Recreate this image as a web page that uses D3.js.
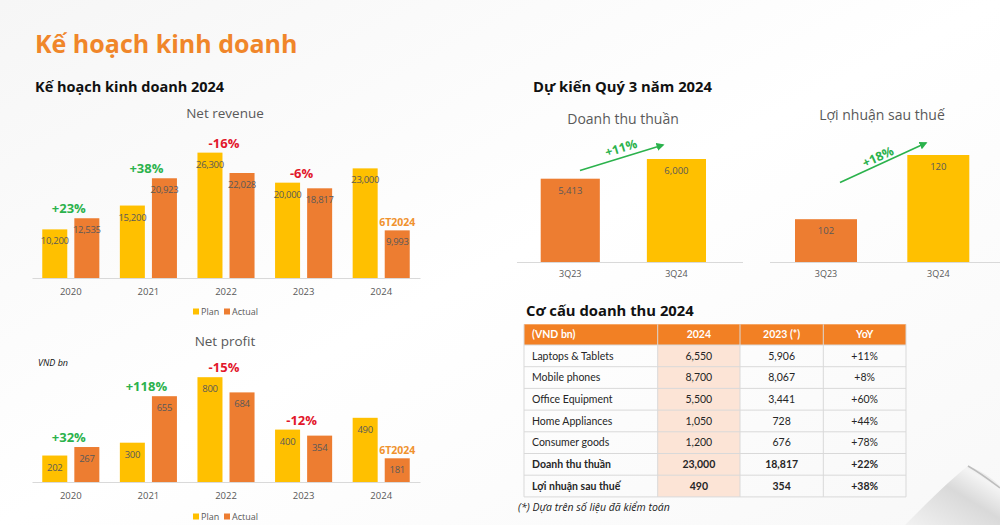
<!DOCTYPE html>
<html><head><meta charset="utf-8">
<script src="https://cdn.jsdelivr.net/npm/d3@7"></script>
<style>
html,body{margin:0;padding:0;background:#fafafa;}
svg{display:block;font-family:"Open Sans","Noto Sans",sans-serif;}
</style></head>
<body>
<svg id="c" width="1000" height="525"></svg>
<script>
// ---------- DATA ----------
const years = ["2020","2021","2022","2023","2024"];
const series = ["Plan","Actual"];
const revenuePlan = [10200, 15200, 26300, 20000, 23000];
const revenueActual = [12535, 20923, 22028, 18817, 9993];
const revenueChange = ["+23%","+38%","-16%","-6%",null];
const profitPlan = [202, 300, 800, 400, 490];
const profitActual = [267, 655, 684, 354, 181];
const profitChange = ["+32%","+118%","-15%","-12%",null];
const partialLabel = "6T2024";

const quarters = ["3Q23","3Q24"];
const q3Revenue = [5413, 6000];
const q3Profit = [102, 120];
const q3RevenueGrowth = "+11%";
const q3ProfitGrowth = "+18%";

const tableHeader = ["(VND bn)","2024","2023 (*)","YoY"];
const tableCategories = ["Laptops & Tablets","Mobile phones","Office Equipment","Home Appliances","Consumer goods","Doanh thu thuần","Lợi nhuận sau thuế"];
const table2024 = ["6,550","8,700","5,500","1,050","1,200","23,000","490"];
const table2023 = ["5,906","8,067","3,441","728","676","18,817","354"];
const tableYoY = ["+11%","+8%","+60%","+44%","+78%","+22%","+38%"];
const boldRows = [5,6];

// ---------- STYLE ----------
const YELLOW = "#ffc000", ORANGE = "#ed7d31", GREEN = "#2bb24c", RED = "#e2162b";
const GRAY = "#595959", TITLEORANGE = "#f0862a";
const svg = d3.select("#c");
const fmt = d3.format(",");

// background + page curl
const defs = svg.append("defs");
const bg = defs.append("linearGradient").attr("id","bg").attr("x1",0).attr("y1",0).attr("x2",1).attr("y2",1);
bg.append("stop").attr("offset","0").attr("stop-color","#f6f6f6");
bg.append("stop").attr("offset","0.5").attr("stop-color","#ffffff");
bg.append("stop").attr("offset","1").attr("stop-color","#f8f8f8");
svg.append("rect").attr("width",1000).attr("height",525).attr("fill","url(#bg)");
const curl = defs.append("linearGradient").attr("id","curl").attr("x1",0).attr("y1",1).attr("x2",1).attr("y2",0);
curl.append("stop").attr("offset","0").attr("stop-color","#f2f2f2");
curl.append("stop").attr("offset","0.55").attr("stop-color","#d9d9d9");
curl.append("stop").attr("offset","0.8").attr("stop-color","#f4f4f4");
curl.append("stop").attr("offset","1").attr("stop-color","#cfcfcf");
svg.append("path").attr("d","M905,525 C930,500 950,480 968,466 C980,470 992,478 1000,486 L1000,525 Z").attr("fill","url(#curl)");
svg.append("path").attr("d","M968,466 C982,474 992,482 1000,488").attr("fill","none").attr("stroke","#bdbdbd").attr("stroke-width",1.5);

// titles
svg.append("text").attr("x",35).attr("y",53).attr("fill",TITLEORANGE).attr("font-size",25).attr("font-weight",700).text("Kế hoạch kinh doanh");
svg.append("text").attr("x",35).attr("y",92).attr("fill","#111").attr("font-size",14.5).attr("font-weight",700).text("Kế hoạch kinh doanh 2024");
svg.append("text").attr("x",533).attr("y",92).attr("fill","#111").attr("font-size",14.8).attr("font-weight",700).text("Dự kiến Quý 3 năm 2024");

// ---------- grouped bar chart ----------
function grouped(opt){
  const g = svg.append("g");
  const x0 = d3.scaleBand().domain(years).range([32,420]);
  const x1 = d3.scaleBand().domain(series).range([0,x0.bandwidth()]).paddingInner(0.22).paddingOuter(0.32);
  const y = d3.scaleLinear().domain([0,opt.max]).range([opt.base, opt.top]);
  const color = d3.scaleOrdinal().domain(series).range([YELLOW,ORANGE]);
  g.append("text").attr("x",225).attr("y",opt.titleY).attr("text-anchor","middle").attr("fill",GRAY).attr("font-size",13.5).text(opt.title);
  const rows = years.map((yr,i)=>({yr, vals:[opt.plan[i],opt.actual[i]], chg:opt.change[i]}));
  const grp = g.selectAll(".grp").data(rows).join("g").attr("transform",d=>`translate(${x0(d.yr)},0)`);
  grp.selectAll("rect").data(d=>d.vals.map((v,k)=>({s:series[k],v}))).join("rect")
    .attr("x",d=>x1(d.s)).attr("width",x1.bandwidth()).attr("y",d=>y(d.v)).attr("height",d=>opt.base-y(d.v)).attr("fill",d=>color(d.s));
  grp.selectAll(".vl").data(d=>d.vals.map((v,k)=>({s:series[k],v}))).join("text")
    .attr("x",d=>x1(d.s)+x1.bandwidth()/2).attr("y",d=>y(d.v)+15).attr("text-anchor","middle")
    .attr("fill",GRAY).attr("font-size",9.5).attr("letter-spacing",-0.3).text(d=>fmt(d.v));
  grp.filter(d=>d.chg).append("text")
    .attr("x",x0.bandwidth()/2-2).attr("y",d=>y(Math.max(...d.vals))-5).attr("text-anchor","middle")
    .attr("fill",d=>d.chg[0]==="+"?GREEN:RED).attr("font-size",13).attr("font-weight",700).text(d=>d.chg);
  grp.filter(d=>!d.chg).append("text")
    .attr("x",x1("Actual")+x1.bandwidth()/2).attr("y",d=>y(d.vals[1])-4).attr("text-anchor","middle")
    .attr("fill","#f0922e").attr("font-size",10.5).attr("font-weight",700).text(partialLabel);
  const ax = g.append("g").attr("transform",`translate(0,${opt.base})`).call(d3.axisBottom(x0).tickSize(0).tickPadding(10));
  ax.select(".domain").attr("stroke","#d9d9d9");
  ax.selectAll("text").attr("fill",GRAY).attr("font-size",9.5).attr("font-family","'Open Sans',sans-serif");
  const lg = g.append("g").attr("transform",`translate(0,${opt.legendY})`);
  const items = [{s:"Plan",x:193},{s:"Actual",x:224}];
  items.forEach(it=>{
    lg.append("rect").attr("x",it.x).attr("y",-3.5).attr("width",6).attr("height",6).attr("fill",color(it.s));
    lg.append("text").attr("x",it.x+8).attr("y",3).attr("fill",GRAY).attr("font-size",9).text(it.s);
  });
  return g;
}
grouped({title:"Net revenue",titleY:118,plan:revenuePlan,actual:revenueActual,change:revenueChange,max:30000,base:278,top:135,legendY:312});
const pg = grouped({title:"Net profit",titleY:346,plan:profitPlan,actual:profitActual,change:profitChange,max:1000,base:482,top:351,legendY:517});
pg.append("text").attr("x",38).attr("y",366).attr("font-size",9).attr("font-style","italic").attr("fill","#111").text("VND bn");

// ---------- quarter bars ----------
function quarter(opt){
  const g = svg.append("g");
  const xb = d3.scaleBand().domain(quarters).range([opt.b0,opt.b1]).paddingInner(opt.pad).paddingOuter(0);
  const y = d3.scaleLinear().domain(opt.domain).range([262,opt.top]);
  g.append("text").attr("x",opt.titleX).attr("y",opt.titleY).attr("text-anchor","middle").attr("fill",GRAY).attr("font-size",14).text(opt.title);
  g.selectAll("rect").data(opt.vals).join("rect")
    .attr("x",(d,i)=>xb(quarters[i])).attr("width",xb.bandwidth()).attr("y",d=>y(d)).attr("height",d=>262-y(d))
    .attr("fill",(d,i)=>i===0?ORANGE:YELLOW);
  g.selectAll(".vl").data(opt.vals).join("text")
    .attr("x",(d,i)=>xb(quarters[i])+xb.bandwidth()/2).attr("y",d=>y(d)+15).attr("text-anchor","middle")
    .attr("fill",GRAY).attr("font-size",9.5).text(d=>fmt(d));
  g.append("line").attr("x1",opt.a0).attr("x2",opt.a1).attr("y1",262.5).attr("y2",262.5).attr("stroke","#d9d9d9");
  const ax = g.append("g").attr("transform","translate(0,262)").call(d3.axisBottom(xb).tickSize(0).tickPadding(9));
  ax.select(".domain").remove();
  ax.selectAll("text").attr("fill",GRAY).attr("font-size",9).attr("font-family","'Open Sans',sans-serif");
  const [ax1,ay1,ax2,ay2] = opt.arrow;
  g.append("line").attr("x1",ax1).attr("y1",ay1).attr("x2",ax2).attr("y2",ay2).attr("stroke",GREEN).attr("stroke-width",1.6).attr("marker-end","url(#arr)");
  const ang = Math.atan2(ay2-ay1,ax2-ax1)*180/Math.PI;
  g.append("text").attr("transform",`translate(${opt.lab[0]},${opt.lab[1]}) rotate(${ang})`).attr("text-anchor","middle").attr("dy","0.35em")
    .attr("fill",GREEN).attr("font-size",12.5).attr("font-weight",700).text(opt.growth);
}
defs.append("marker").attr("id","arr").attr("viewBox","0 0 10 10").attr("refX",8).attr("refY",5).attr("markerWidth",5).attr("markerHeight",5).attr("orient","auto")
  .append("path").attr("d","M0,0 L10,5 L0,10 Z").attr("fill",GREEN);
quarter({title:"Doanh thu thuần",titleX:623,titleY:124,vals:q3Revenue,domain:[2930,6000],top:159,b0:540.7,b1:706,pad:0.443,a0:517,a1:743,arrow:[580,170.5,663,145],lab:[621,148],growth:q3RevenueGrowth});
quarter({title:"Lợi nhuận sau thuế",titleX:882,titleY:120,vals:q3Profit,domain:[90,120],top:155,b0:795,b1:969.3,pad:0.448,a0:770,a1:1000,arrow:[840,182.5,926,143],lab:[878,157],growth:q3ProfitGrowth});

// ---------- table ----------
svg.append("text").attr("x",526).attr("y",316).attr("fill","#111").attr("font-size",14.8).attr("font-weight",700).text("Cơ cấu doanh thu 2024");
const colX = [524,657.7,740,823.3,906];
const hdrTop = 324.3, hdrH = 20.7, rowH = 21.7;
const tg = svg.append("g").attr("font-family","Lato,'Open Sans',sans-serif");
tg.append("rect").attr("x",colX[0]).attr("y",hdrTop).attr("width",colX[4]-colX[0]).attr("height",hdrH).attr("fill","#f28024");
tg.append("rect").attr("x",colX[1]).attr("y",hdrTop+hdrH).attr("width",colX[2]-colX[1]).attr("height",rowH*tableCategories.length).attr("fill","#fce4d6");
tableHeader.forEach((h,j)=>{
  tg.append("text").attr("x",j===0?colX[0]+8:(colX[j]+colX[j+1])/2).attr("y",hdrTop+hdrH/2).attr("dy","0.35em")
    .attr("text-anchor",j===0?"start":"middle").attr("fill","#fff").attr("font-size",10.5).attr("font-weight",700).text(h);
});
for(let i=0;i<=tableCategories.length;i++){
  tg.append("line").attr("x1",colX[0]).attr("x2",colX[4]).attr("y1",hdrTop+hdrH+i*rowH).attr("y2",hdrTop+hdrH+i*rowH).attr("stroke","#d9d9d9");
}
colX.forEach(cx=>tg.append("line").attr("x1",cx).attr("x2",cx).attr("y1",hdrTop).attr("y2",hdrTop+hdrH+rowH*tableCategories.length).attr("stroke","#d9d9d9"));
tableCategories.forEach((c,i)=>{
  const yy = hdrTop+hdrH+i*rowH+rowH/2;
  const fw = boldRows.includes(i)?700:400;
  const cells = [c,table2024[i],table2023[i],tableYoY[i]];
  cells.forEach((t,j)=>{
    tg.append("text").attr("x",j===0?colX[0]+8:(colX[j]+colX[j+1])/2).attr("y",yy).attr("dy","0.35em")
      .attr("text-anchor",j===0?"start":"middle").attr("fill","#262626").attr("font-size",10.5).attr("font-weight",fw).text(t);
  });
});
svg.append("text").attr("x",518).attr("y",511).attr("fill","#222").attr("font-size",10.5).attr("font-style","italic").text("(*) Dựa trên số liệu đã kiểm toán");
</script>
</body></html>
